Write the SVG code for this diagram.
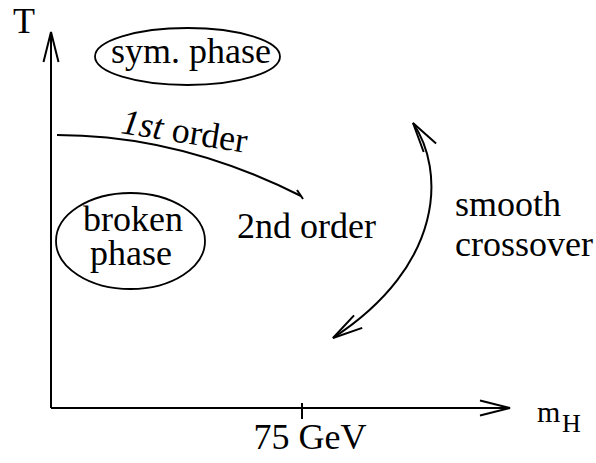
<svg xmlns="http://www.w3.org/2000/svg" width="596" height="463" viewBox="0 0 596 463">
<defs>
<marker id="open" markerUnits="userSpaceOnUse" markerWidth="40" markerHeight="20" viewBox="-2 -10 34 20" refX="30" refY="0" orient="auto-start-reverse">
<path d="M0,-7.5 L30,0 L0,7.5" fill="none" stroke="#000" stroke-width="2"/>
</marker>
<style>
.t{font-family:'Liberation Serif',serif;fill:#000;font-size:36px}
.ln{fill:none;stroke:#000;stroke-width:2}
.el{fill:none;stroke:#000;stroke-width:1.8}
</style>
</defs>
<rect width="596" height="463" fill="#fff"/>
<g id="connectors">
<path id="y-axis" class="ln" d="M51,408 L51,32" marker-end="url(#open)"/>
<path id="x-axis" class="ln" d="M51,408 L510,408" marker-end="url(#open)"/>
<path id="tick" class="ln" d="M302,403 L302,419"/>
<path id="first-order-line" class="ln" d="M57,135 Q180,135 301,196"/>
<path id="cross" class="ln" d="M297,190 L303,199"/>
<path id="crossover-arc" class="ln" d="M413,123 C445,170 445,265 333,338" marker-start="url(#open)" marker-end="url(#open)"/>
</g>
<g id="axis-labels" font-family="Liberation Serif, serif">
<text class="t" x="13" y="33" font-size="33">T</text>
<text class="t" x="537" y="422" style="font-size:30px">m<tspan x="562" y="432" style="font-size:26px">H</tspan></text>
<text class="t" x="310" y="449" text-anchor="middle">75 GeV</text>
</g>
<g id="sym-phase" font-family="Liberation Serif, serif">
<ellipse class="el" cx="187.5" cy="56.5" rx="92.5" ry="28.5"/>
<text class="t" x="191" y="63" text-anchor="middle">sym. phase</text>
</g>
<g id="broken-phase" font-family="Liberation Serif, serif">
<ellipse class="el" cx="130.5" cy="241" rx="74.5" ry="48"/>
<text class="t" x="133" y="231" text-anchor="middle">broken</text>
<text class="t" x="131" y="265" text-anchor="middle">phase</text>
</g>
<g id="first-order-label" font-family="Liberation Serif, serif">
<text class="t" x="120" y="133" transform="rotate(9 120 133)"><tspan font-style="italic">1st</tspan> order</text>
</g>
<g id="second-order-label" font-family="Liberation Serif, serif">
<text class="t" x="237" y="238">2nd order</text>
</g>
<g id="smooth-crossover-label" font-family="Liberation Serif, serif">
<text class="t" x="455" y="216">smooth</text>
<text class="t" x="455" y="256">crossover</text>
</g>
</svg>
